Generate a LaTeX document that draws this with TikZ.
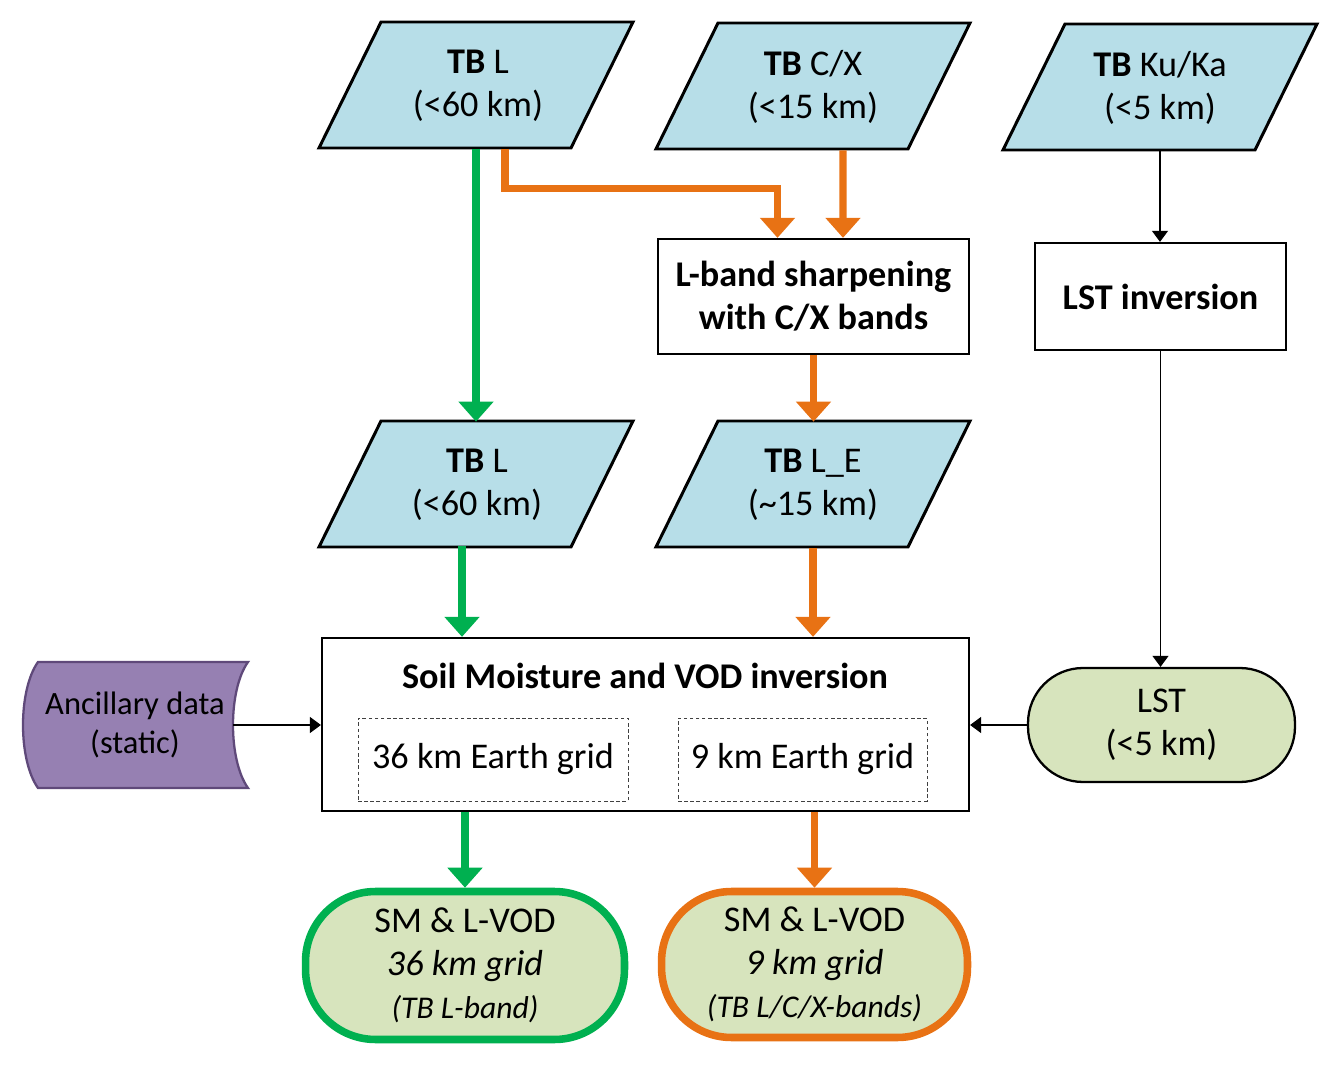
\documentclass[tikz,border=0pt]{standalone}
\usepackage{fontspec}
\setmainfont{Carlito}
\usetikzlibrary{arrows.meta,positioning,calc}
\tikzset{
    >=Stealth
}

\begin{document}
\begin{tikzpicture}[x=0.02cm,y=-0.02cm]
  % colours (RGB, as in the office palette)
  \definecolor{tbColor}{RGB}{183,222,232}     % light blue
  \definecolor{resColor}{RGB}{215,228,189}    % pale green
  \definecolor{lineGreen}{RGB}{0,176,80}
  \definecolor{lineOrange}{RGB}{232,114,20}
  \definecolor{ancColor}{RGB}{150,128,178}
  \definecolor{ancBorder}{RGB}{95,73,122}

  \tikzset{
    base/.style={font=\fontsize{20.6}{24.5}\selectfont, align=center, inner sep=0pt},
    tbtext/.style={base, minimum width=3.8cm, minimum height=2.52cm},
    tbpara/.style={draw=black, fill=tbColor, line width=1.7pt},
    procbox/.style={base, draw=black, line width=1.3pt,
      font=\fontsize{20.6}{24.5}\selectfont\bfseries},
    gridbox/.style={base, draw=black!75, dash pattern=on 2pt off 1.5pt,
      line width=0.5pt, minimum height=1.66cm},
    result/.style={base, fill=resColor, rounded corners=1.4cm, line width=4.3pt},
    greenflow/.style={-{Triangle[width=0.68cm,length=0.4cm]}, draw=lineGreen, line width=4pt},
    orangeflow/.style={-{Triangle[width=0.68cm,length=0.4cm]}, draw=lineOrange, line width=4pt},
    thinflow/.style={-{Triangle[width=0.32cm,length=0.22cm]}, line width=0.6pt}
  }

  \useasboundingbox (0,0) rectangle (1340,1067);

  % brightness temperature inputs (parallelograms)
  \foreach \cx/\cy in {476/85, 813/86, 1160/87, 476/484, 813/484}
    \draw[tbpara] (\cx-95,\cy-63) -- (\cx+157,\cy-63) -- (\cx+95,\cy+63) -- (\cx-157,\cy+63) -- cycle;

  \node[tbtext] (tbL)    at (478,86)  {\textbf{TB} L\\(<60 km)};
  \node[tbtext] (tbCX)   at (813,87)  {\textbf{TB} C/X\\(<15 km)};
  \node[tbtext] (tbKu)   at (1160,88) {\textbf{TB} Ku/Ka\\(<5 km)};
  \node[tbtext] (tbLlow) at (477,485) {\textbf{TB} L\\(<60 km)};
  \node[tbtext] (tbLE)   at (813,485) {\textbf{TB} L\_E\\(\textasciitilde15 km)};

  % processing steps
  \node[procbox, minimum width=6.22cm, minimum height=2.3cm] (sharp) at (813.5,296.5)
    {L-band sharpening\\with C/X bands};
  \node[procbox, minimum width=5.02cm, minimum height=2.14cm] (lstinv) at (1160.5,296.5)
    {LST inversion};

  \node[base, draw=black, line width=1.3pt, minimum width=12.94cm, minimum height=3.46cm] (sm) at (645.5,724.5) {};
  \node[procbox, draw=none] (smtitle) at (645,676) {Soil Moisture and VOD inversion};
  \node[gridbox, minimum width=5.4cm]  (grid36) at (493,759.5)   {36 km Earth grid};
  \node[gridbox, minimum width=4.98cm] (grid9)  at (802.5,759.5) {9 km Earth grid};

  % ancillary data (stored data shape)
  \draw[fill=ancColor, draw=ancBorder, line width=1.3pt]
    (38,662) -- (248,662) .. controls (228,690) and (228,760) .. (248,788)
    -- (38,788) .. controls (18,760) and (18,690) .. (38,662) -- cycle;
  \node[base, font=\fontsize{18.5}{22}\selectfont, minimum width=3.92cm, minimum height=2.52cm] (anc) at (135,725)
    {Ancillary data\\(static)};

  % outputs
  \node[base, draw=black, fill=resColor, line width=1.3pt, rounded corners=1.1cm,
    minimum width=5.34cm, minimum height=2.28cm] (lst) at (1161.5,725) {LST\\(<5 km)};
  \node[result, draw=lineGreen, minimum width=6.38cm, minimum height=2.96cm] (sm36) at (465,965.5)
    {SM \& L-VOD\\\textit{36 km grid}\\{\fontsize{18}{22}\selectfont\itshape (TB L-band)}};
  \node[result, draw=lineOrange, minimum width=6.12cm, minimum height=2.92cm] (sm9) at (814.5,964.5)
    {SM \& L-VOD\\\textit{9 km grid}\\{\fontsize{18}{22}\selectfont\itshape (TB L/C/X-bands)}};

  % L-band only chain
  \draw[greenflow] (tbL.south -| 476,0) -- (tbLlow.north -| 476,0);
  \coordinate (gdown) at (462,546);
  \draw[greenflow] (gdown) -- (gdown |- sm.north);
  \draw[greenflow] (sm.south -| sm36.north) -- (sm36.north);

  % sharpened chain
  \draw[orangeflow] ($(tbL.south)+(27,0)$) |- ($(sharp.north)+(-36,-49)$) -- ($(sharp.north)+(-36,0)$);
  \draw[orangeflow] ($(tbCX.south)+(30,0)$) -- ($(sharp.north)+(29.5,0)$);
  \draw[orangeflow] (sharp.south) -- (sharp.south |- tbLE.north);
  \draw[orangeflow] (tbLE.south) -- (tbLE.south |- sm.north);
  \draw[orangeflow] (sm.south -| sm9.north) -- (sm9.north);

  % LST chain and ancillary
  \draw[thinflow] (tbKu.south) -- (tbKu.south |- lstinv.north);
  \draw[thinflow] (lstinv.south) -- (lstinv.south |- lst.north);
  \draw[thinflow] (lst.west) -- (lst.west -| sm.east);
  \draw[thinflow] (anc.east) -- (anc.east -| sm.west);
\end{tikzpicture}
\end{document}
